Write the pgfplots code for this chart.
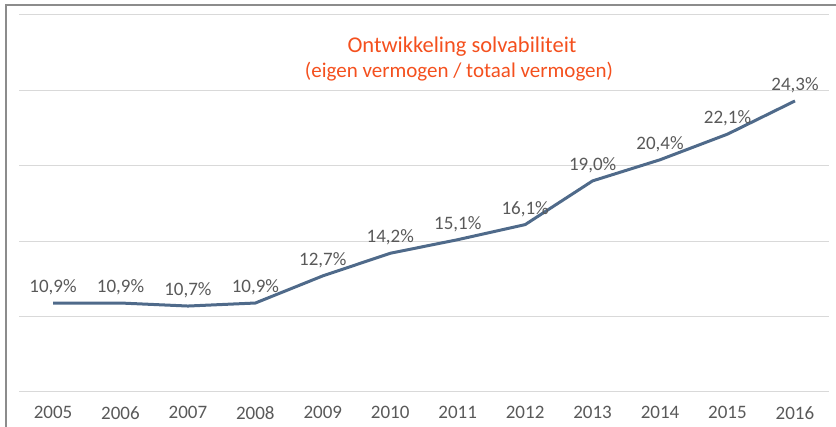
\documentclass[border=0pt]{standalone}
\usepackage{pgfplots}
\pgfplotsset{compat=1.18}
\usepackage{fontspec}
\setmainfont{Carlito}
\definecolor{lijn}{RGB}{79,106,138}
\definecolor{tekst}{RGB}{89,89,89}
\definecolor{titel}{RGB}{244,80,30}
\definecolor{rooster}{RGB}{217,217,217}
\definecolor{kader}{RGB}{140,140,140}
\begin{document}
\begin{tikzpicture}[x=1pt,y=1pt]
    \useasboundingbox (0,0) rectangle (836,427);
    \draw[kader, line width=2.5pt] (6,0) -- (6,422) -- (836,422);
    \begin{axis}[
            at={(19.3pt,35pt)},
            anchor=south west,
            scale only axis,
            width=809.4pt,
            height=377pt,
            xmin=2004.5,
            xmax=2016.5,
            ymin=5,
            ymax=30,
            xtick={2005,...,2016},
            xticklabels={2005,2006,2007,2008,2009,2010,2011,2012,2013,2014,2015,2016},
            ytick={5,10,...,30},
            yticklabels={},
            ymajorgrids,
            grid style={rooster, line width=1pt},
            axis line style={draw=none},
            major tick length=0pt,
            tick label style={font=\fontsize{19}{21}\selectfont, text=tekst},
            xticklabel style={yshift=-11pt},
            clip=false,
        ]
        \addplot [lijn, line width=3pt, line join=round,
            nodes near coords, point meta=explicit symbolic,
            every node near coord/.append style={font=\fontsize{19}{21}\selectfont, text=tekst, anchor=south, yshift=3pt}]
            coordinates {
                (2005,10.9) [10,9\%]
                (2006,10.9) [10,9\%]
                (2007,10.7) [10,7\%]
                (2008,10.9) [10,9\%]
                (2009,12.7) [12,7\%]
                (2010,14.2) [14,2\%]
                (2011,15.1) [15,1\%]
                (2012,16.1) [16,1\%]
                (2013,19.0) [19,0\%]
                (2014,20.4) [20,4\%]
                (2015,22.1) [22,1\%]
                (2016,24.3) [24,3\%]
            };
    \end{axis}
    \node[text=titel, font=\fontsize{22.5}{25}\selectfont] at (462,380) {Ontwikkeling solvabiliteit};
    \node[text=titel, font=\fontsize{21}{23}\selectfont] at (459,355) {(eigen vermogen / totaal vermogen)};
\end{tikzpicture}
\end{document}
